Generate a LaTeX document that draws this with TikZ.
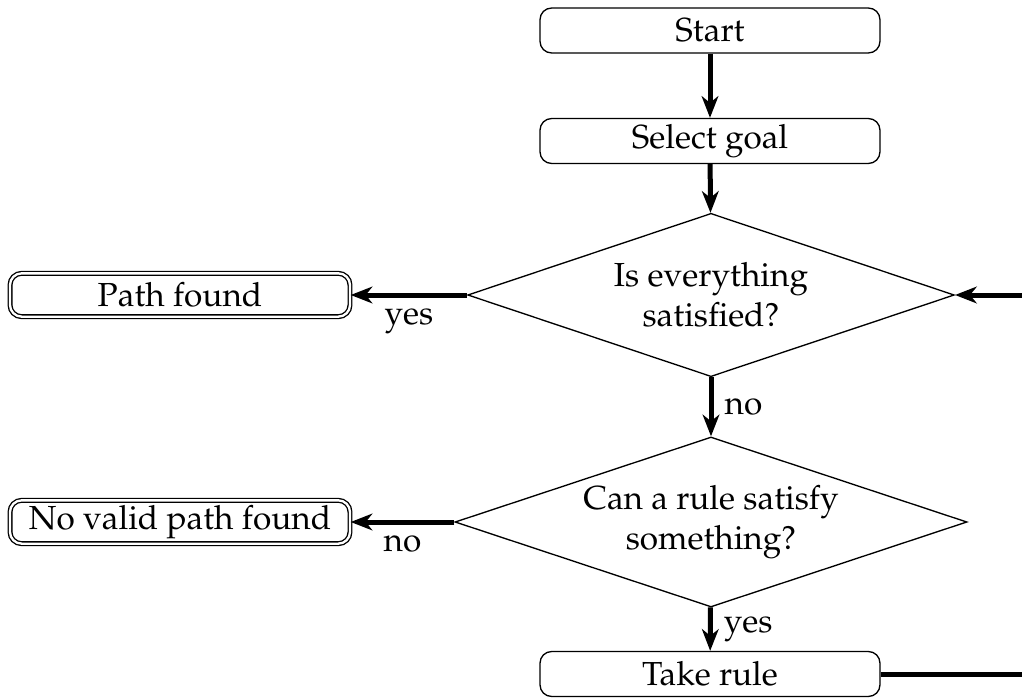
\documentclass[tikz,border=0pt]{standalone}
\usepackage[T1]{fontenc}
\usepackage{mathpazo}
\usetikzlibrary{shapes.geometric,arrows.meta}
\begin{document}
\begin{tikzpicture}[x=0.3pt,y=-0.3pt,
  box/.style={draw,thin,rounded corners=3.5pt,minimum width=102pt,minimum height=13.5pt,inner sep=0pt},
  endbox/.style={draw,thin,double,double distance=0.7pt,rounded corners=3.5pt,minimum width=102pt,minimum height=13pt,inner sep=0pt},
  dec/.style={draw,thin,diamond,aspect=3,inner sep=0pt,align=center},
  arr/.style={line width=1.5pt,-{Stealth[length=6.5pt,width=5pt,inset=2pt]}},
  lnk/.style={line width=1.5pt}]
\useasboundingbox (0,0) rectangle (1022,698);
\clip (0,0) rectangle (1022,698);
\node[box] (start) at (710,30.5) {Start};
\node[box] (goal) at (710,141) {Select goal};
\node[dec,minimum width=146pt,minimum height=49pt] (d1) at (711,295) {Is everything\\satisfied?};
\node[endbox] (pf) at (180,295) {Path found};
\node[dec,minimum width=153.6pt,minimum height=51pt] (d2) at (711,522) {Can a rule satisfy\\something?};
\node[endbox] (nv) at (180,522) {No valid path found};
\node[box] (take) at (710,674) {Take rule};
\coordinate (loop) at (1060,674);
\draw[arr] (start) -- (goal);
\draw[arr] (goal) -- (d1);
\draw[arr] (d1) -- node[below] {yes} (pf);
\draw[arr] (d1) -- node[right] {no} (d2);
\draw[arr] (d2) -- node[below] {no} (nv);
\draw[arr] (d2) -- node[right] {yes} (take);
\draw[lnk] (take) -- (loop);
\draw[arr] (loop) |- (d1);
\end{tikzpicture}
\end{document}
